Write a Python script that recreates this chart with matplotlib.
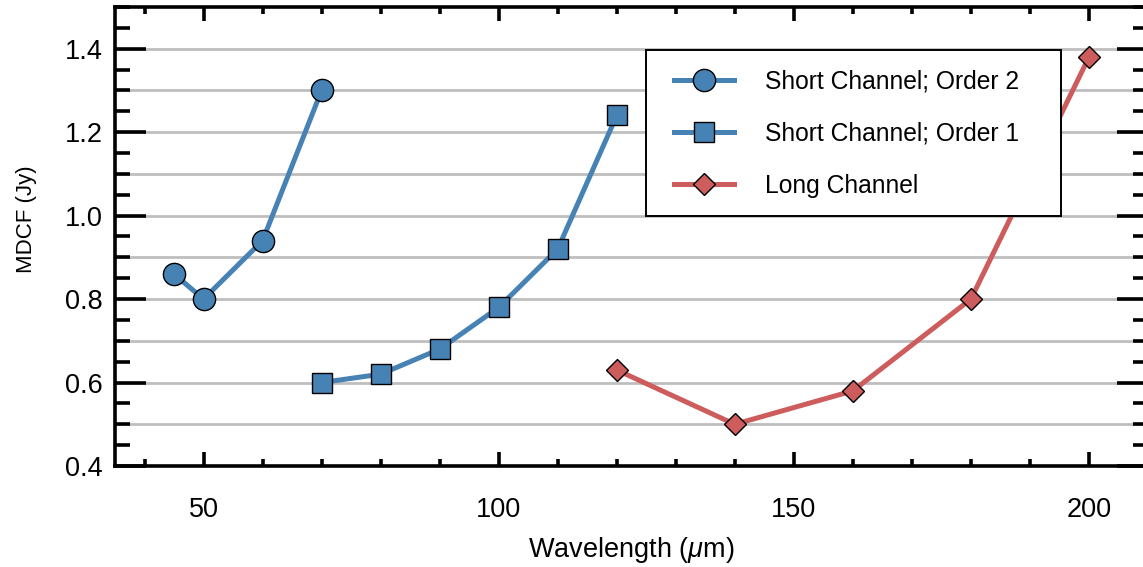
import numpy as np
import matplotlib
matplotlib.use("Agg")
import matplotlib.pyplot as plt
from matplotlib.ticker import MultipleLocator
from matplotlib.patches import Rectangle

# ---- data ----
order2_wl = [45, 50, 60, 70]
order2_mdcf = [0.86, 0.80, 0.94, 1.30]
order1_wl = [70, 80, 90, 100, 110, 120]
order1_mdcf = [0.60, 0.62, 0.68, 0.78, 0.92, 1.24]
long_wl = [120, 140, 160, 180, 200]
long_mdcf = [0.63, 0.50, 0.58, 0.80, 1.38]
labels = ["Short Channel; Order 2", "Short Channel; Order 1", "Long Channel"]
grid_levels = [0.5, 0.6, 0.7, 0.8, 0.9, 1.0, 1.1, 1.2, 1.3, 1.4]

BLUE = "#4682B4"
RED = "#CD5C5C"

plt.rcParams['font.family'] = ['Liberation Sans', 'DejaVu Sans']
plt.rcParams['mathtext.fontset'] = 'custom'
plt.rcParams['mathtext.it'] = 'Liberation Sans:italic'
plt.rcParams['mathtext.rm'] = 'Liberation Sans'

W, H = 1143, 567
fig = plt.figure(figsize=(W / 100, H / 100), dpi=100)
L, R, T, B = 115, 1148, 7, 466
ax = fig.add_axes([L / W, 1 - B / H, (R - L) / W, (B - T) / H])

ax.set_xlim(35, 210)
ax.set_ylim(0.4, 1.5)

ax.hlines(grid_levels, 35, 210, colors="#BEBEBE", linewidth=2.0, zorder=0)

lw = 3.6
ax.plot(order2_wl, order2_mdcf, color=BLUE, lw=lw, marker='o', ms=16,
        mfc=BLUE, mec='black', mew=1.0, label=labels[0], zorder=3)
ax.plot(order1_wl, order1_mdcf, color=BLUE, lw=lw, marker='s', ms=14.5,
        mfc=BLUE, mec='black', mew=1.0, label=labels[1], zorder=3)
ax.plot(long_wl, long_mdcf, color=RED, lw=lw, marker='D', ms=11.5,
        mfc=RED, mec='black', mew=1.0, label=labels[2], zorder=3)

ax.xaxis.set_major_locator(MultipleLocator(50))
ax.xaxis.set_minor_locator(MultipleLocator(10))
ax.yaxis.set_major_locator(MultipleLocator(0.2))
ax.yaxis.set_minor_locator(MultipleLocator(0.05))
ax.yaxis.set_major_formatter(matplotlib.ticker.FormatStrFormatter('%.1f'))

for s in ax.spines.values():
    s.set_linewidth(2.6)
    s.set_zorder(5)

ax.tick_params(axis='x', which='major', direction='in', length=10, width=2.6,
               top=True, bottom=True, labelsize=19.5, pad=22)
ax.tick_params(axis='x', which='minor', direction='in', length=5, width=2.6,
               top=True, bottom=True)
ax.tick_params(axis='y', which='major', direction='in', length=22, width=2.6,
               left=True, right=True, labelsize=19.5, pad=8.6)
ax.tick_params(axis='y', which='minor', direction='in', length=11, width=2.6,
               left=True, right=True)

ax.set_xlabel(r'Wavelength ($\mu$m)', fontsize=19.5, va='bottom')
ax.set_ylabel('MDCF (Jy)', fontsize=16)
ax.yaxis.set_label_coords(-0.0755, 0.538)
ax.xaxis.set_label_coords(0.5, (B - 565) / (B - T))

# legend frame
lx0, lx1, ly0, ly1 = 646, 1061, 50, 216
fx0 = (lx0 - L) / (R - L)
fx1 = (lx1 - L) / (R - L)
fy0 = (B - ly1) / (B - T)
fy1 = (B - ly0) / (B - T)
ax.add_patch(Rectangle((fx0, fy0), fx1 - fx0, fy1 - fy0, transform=ax.transAxes,
                       facecolor='white', edgecolor='black', lw=1.4, zorder=6))
leg = ax.legend(loc='upper left', bbox_to_anchor=(fx0 + 0.027, fy1 - 0.043),
                frameon=False, fontsize=17.7, handlelength=2.45,
                handletextpad=1.25, labelspacing=1.14, borderpad=0.0,
                borderaxespad=0.0)
leg.set_zorder(7)

fig.savefig("out.png", dpi=100)
